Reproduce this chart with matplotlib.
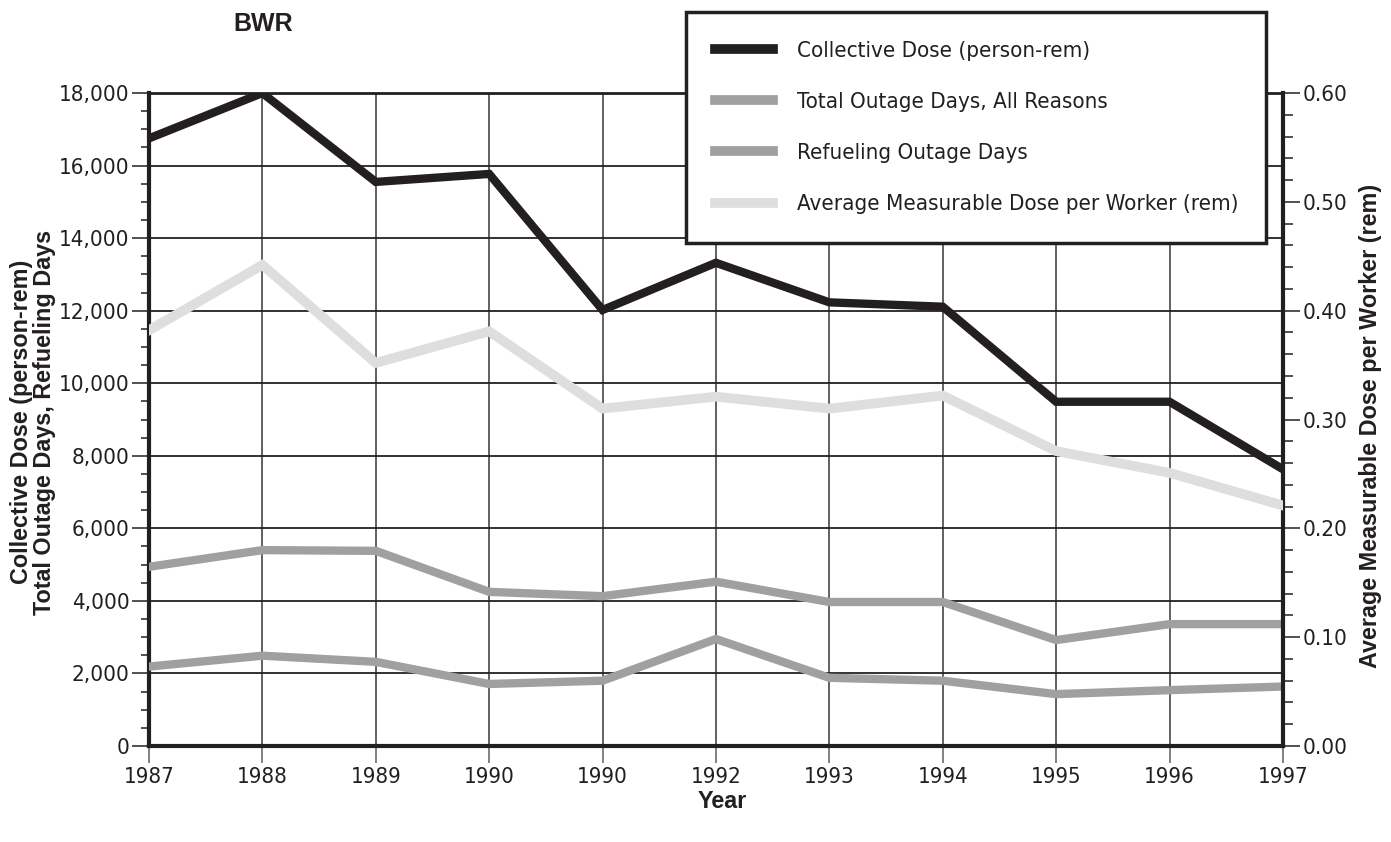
import matplotlib
matplotlib.use('Agg')
import matplotlib.pyplot as plt
from matplotlib.font_manager import FontProperties
from matplotlib.ticker import MultipleLocator, FuncFormatter

# Data (the source repeats "1990" as a tick label)
years = ['1987', '1988', '1989', '1990', '1990', '1992', '1993', '1994', '1995', '1996', '1997']
collective_dose = [16750, 18000, 15550, 15770, 12020, 13320, 12230, 12110, 9490, 9490, 7630]
total_outage_days = [4940, 5400, 5380, 4250, 4130, 4530, 3970, 3970, 2920, 3360, 3360]
refueling_outage_days = [2190, 2490, 2320, 1710, 1800, 2950, 1880, 1800, 1430, 1540, 1640]
avg_dose_per_worker = [0.382, 0.442, 0.352, 0.381, 0.310, 0.321, 0.310, 0.322, 0.271, 0.251, 0.221]

# condensed face for numbers/legend, Arial-like bold for titles
tick_font = FontProperties(family='DejaVu Sans', stretch='condensed', size=16)
leg_font = FontProperties(family='DejaVu Sans', stretch='condensed', size=16)
title_font = FontProperties(family=['Liberation Sans', 'DejaVu Sans'], weight='bold',
                            stretch='normal', size=18)
label_font = FontProperties(family=['Liberation Sans', 'DejaVu Sans'], weight='bold',
                            stretch='normal', size=16.8)

dark = '#231f20'
mid = '#a0a0a0'
light = '#dedede'

fig = plt.figure(figsize=(13.91, 8.42), dpi=100)
ax1 = fig.add_axes([0.1071, 0.1140, 0.8152, 0.7755])
ax2 = ax1.twinx()

x = list(range(len(years)))

l1, = ax1.plot(x, collective_dose, color=dark, lw=6, solid_joinstyle='miter', zorder=3,
               label='Collective Dose (person-rem)')
l2, = ax1.plot(x, total_outage_days, color=mid, lw=6, solid_joinstyle='miter', zorder=3,
               label='Total Outage Days, All Reasons')
l3, = ax1.plot(x, refueling_outage_days, color=mid, lw=6, solid_joinstyle='miter', zorder=3,
               label='Refueling Outage Days')
l4, = ax2.plot(x, avg_dose_per_worker, color=light, lw=7, solid_joinstyle='miter', zorder=3,
               label='Average Measurable Dose per Worker (rem)')

# left axis
ax1.set_xlim(0, len(years) - 1)
ax1.set_ylim(0, 18000)
ax1.yaxis.set_major_locator(MultipleLocator(2000))
ax1.yaxis.set_minor_locator(MultipleLocator(500))
ax1.yaxis.set_major_formatter(FuncFormatter(lambda v, p: '{:,}'.format(int(v))))
ax1.set_xticks(x)
ax1.set_xticklabels(years)
ax1.grid(axis='y', color='#222222', lw=1.3, zorder=1)
ax1.grid(axis='x', color='#555555', lw=1.3, zorder=1)
ax1.set_axisbelow(True)
ax1.tick_params(axis='y', which='major', length=12, width=1.2, color='#333333', pad=2,
                labelcolor='#231f20')
ax1.tick_params(axis='y', which='minor', length=6, width=1.2, color='#333333')
ax1.tick_params(axis='x', which='major', length=12, width=1.3, color='#777777', pad=3,
                labelcolor='#231f20')
for lab in ax1.get_xticklabels() + ax1.get_yticklabels():
    lab.set_fontproperties(tick_font)

# right axis
ax2.set_ylim(0, 0.6)
ax2.yaxis.set_major_locator(MultipleLocator(0.1))
ax2.yaxis.set_minor_locator(MultipleLocator(0.02))
ax2.yaxis.set_major_formatter(FuncFormatter(lambda v, p: '%.2f' % v))
ax2.tick_params(axis='y', which='major', length=12, width=1.2, color='#333333', pad=2,
                labelcolor='#231f20')
ax2.tick_params(axis='y', which='minor', length=7, width=1.2, color='#333333')
for lab in ax2.get_yticklabels():
    lab.set_fontproperties(tick_font)

for sp in ['left', 'bottom']:
    ax1.spines[sp].set_linewidth(3)
    ax1.spines[sp].set_color(dark)
ax1.spines['top'].set_linewidth(2)
ax1.spines['top'].set_color(dark)
ax1.spines['right'].set_visible(False)
ax2.spines['right'].set_linewidth(3)
ax2.spines['right'].set_color(dark)
for sp in ['left', 'bottom', 'top']:
    ax2.spines[sp].set_visible(False)

# labels
fig.text(263 / 1391, 1 - 24 / 842, 'BWR', ha='center', va='center',
         fontproperties=title_font, color=dark)
fig.text(33 / 1391, 1 - 422 / 842, 'Collective Dose (person-rem)\nTotal Outage Days, Refueling Days',
         ha='center', va='center', rotation=90, fontproperties=label_font,
         color=dark, linespacing=0.95)
fig.text(1370 / 1391, 1 - 426 / 842, 'Average Measurable Dose per Worker (rem)',
         ha='center', va='center', rotation=90, fontproperties=label_font, color=dark)
fig.text(722 / 1391, 1 - 801 / 842, 'Year', ha='center', va='center',
         fontproperties=label_font, color=dark)

# legend box sits over the top of the plot area
leg = ax2.legend(handles=[l1, l2, l3, l4], loc='upper left',
                 bbox_to_anchor=(537 / 1134, 0.778, 580 / 1134, 0.346), mode='expand',
                 ncol=1, prop=leg_font, handlelength=2.6,
                 handletextpad=1.1, labelspacing=1.4, borderpad=1.3,
                 borderaxespad=0, fancybox=False, framealpha=1,
                 edgecolor=dark, facecolor='white')
leg.get_frame().set_linewidth(2.5)
for t in leg.get_texts():
    t.set_color(dark)
for h in leg.legend_handles:
    h.set_linewidth(7)
leg.set_zorder(10)

fig.savefig('out.png', dpi=100)
